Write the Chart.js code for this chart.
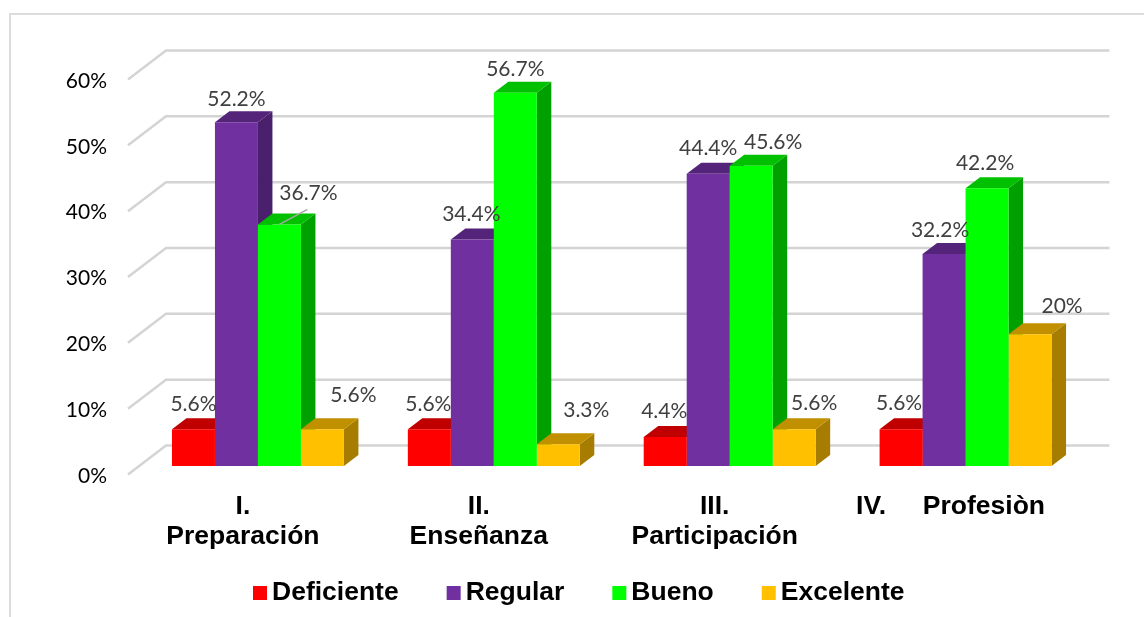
<!DOCTYPE html>
<html>
<head>
<meta charset="utf-8">
<style>
  html, body { margin: 0; padding: 0; background: #fff; }
  #box { width: 1144px; height: 617px; }
</style>
<script src="https://cdn.jsdelivr.net/npm/chart.js@4"></script>
</head>
<body>
<div id="box"><canvas id="chart" width="1144" height="617"></canvas></div>
<script>
const categories = [['I.', 'Preparación'], ['II.', 'Enseñanza'], ['III.', 'Participación'], 'IV.     Profesiòn']
const yTicks = [0, 10, 20, 30, 40, 50, 60]

const deficiente = [5.6, 5.6, 4.4, 5.6]
const regular = [52.2, 34.4, 44.4, 32.2]
const bueno = [36.7, 56.7, 45.6, 42.2]
const excelente = [5.6, 3.3, 5.6, 20]

// front, top and side colour of each series
const series = [
    { label: 'Deficiente', data: deficiente, color: '#ff0000', top: '#c00000', side: '#a80000' },
    { label: 'Regular', data: regular, color: '#7030a0', top: '#54247a', side: '#4a1f6b' },
    { label: 'Bueno', data: bueno, color: '#00ff00', top: '#00c000', side: '#00a000' },
    { label: 'Excelente', data: excelente, color: '#ffc000', top: '#c09000', side: '#a67d00' },
]

// hand placed data labels, [dx, dy] from the top centre of each bar
const labelNudge = [
    [[0, -25], [-1, -25], [-1, -26], [-2, -26]],
    [[0, -23], [-1, -25], [0, -25], [-4, -24]],
    [[29, -31], [0, -23], [22, -24], [-2, -25]],
    [[31, -34], [28, -34], [20, -26], [32, -28]],
]

const DEPTH_X = 14.5
const DEPTH_Y = 11
const BACK_X = 26
const BACK_Y = -20.5
const FRONT_X = -12
const FRONT_Y = 8.5

function poly(c, pts, fill) {
    c.fillStyle = fill
    c.beginPath()
    pts.forEach((p, i) => i ? c.lineTo(p[0], p[1]) : c.moveTo(p[0], p[1]))
    c.closePath()
    c.fill()
}

const fake3d = {
    id: 'fake3d',
    beforeDraw(chart) {
        const c = chart.ctx
        c.save()
        c.strokeStyle = '#dcdcdc'
        c.lineWidth = 2
        c.beginPath()
        c.moveTo(10, 617)
        c.lineTo(10, 14)
        c.lineTo(1144, 14)
        c.stroke()
        c.restore()
    },
    beforeDatasetsDraw(chart) {
        const c = chart.ctx
        const area = chart.chartArea
        const y = chart.scales.y
        c.save()
        // walls: one diagonal on the side and one line along the back per tick
        c.strokeStyle = '#d4d4d4'
        c.lineWidth = 2.5
        yTicks.forEach(t => {
            const py = y.getPixelForValue(t)
            c.beginPath()
            c.moveTo(area.left + FRONT_X, py + FRONT_Y)
            c.lineTo(area.left + BACK_X, py + BACK_Y)
            c.lineTo(area.right + BACK_X, py + BACK_Y)
            c.stroke()
        })
        // tops and sides go first so the library's bars cover them
        series.forEach((s, i) => {
            chart.getDatasetMeta(i).data.forEach(bar => {
                const l = bar.x - bar.width / 2
                const r = bar.x + bar.width / 2
                poly(c, [[r, bar.y], [r + DEPTH_X, bar.y - DEPTH_Y], [r + DEPTH_X, bar.base - DEPTH_Y], [r, bar.base]], s.side)
                poly(c, [[l, bar.y], [l + DEPTH_X, bar.y - DEPTH_Y], [r + DEPTH_X, bar.y - DEPTH_Y], [r, bar.y]], s.top)
            })
        })
        c.restore()
    },
    afterDatasetsDraw(chart) {
        const c = chart.ctx
        c.save()
        // leader line of the 36.7% label
        const lead = chart.getDatasetMeta(2).data[0]
        c.strokeStyle = '#a6a6a6'
        c.lineWidth = 1.5
        c.beginPath()
        c.moveTo(lead.x, lead.y)
        c.lineTo(lead.x + 28, lead.y - 15)
        c.stroke()

        c.font = '21px Lato'
        c.fillStyle = '#404040'
        c.textAlign = 'center'
        c.textBaseline = 'middle'
        series.forEach((s, i) => {
            chart.getDatasetMeta(i).data.forEach((bar, j) => {
                const n = labelNudge[i][j]
                c.fillText(s.data[j] + '%', bar.x + n[0], bar.y + n[1])
            })
        })

        // legend, box and text sit closer than the built in one allows
        c.font = 'bold 26.5px "Liberation Sans"'
        c.textAlign = 'left'
        const widths = series.map(s => c.measureText(s.label).width)
        let x = 253
        series.forEach((s, i) => {
            c.fillStyle = s.color
            c.fillRect(x, 586, 14, 14)
            c.fillStyle = '#000'
            c.fillText(s.label, x + 19, 593)
            x += 19 + widths[i] + 48
        })
        c.restore()
    },
}

new Chart(document.getElementById('chart').getContext('2d'), {
    type: 'bar',
    data: {
        labels: categories,
        datasets: series.map(s => ({ label: s.label, data: s.data, backgroundColor: s.color })),
    },
    plugins: [fake3d],
    options: {
        responsive: false,
        animation: false,
        layout: { padding: { top: 71, right: 60.5, bottom: 0, left: 0 } },
        plugins: { legend: { display: false }, tooltip: { enabled: false } },
        datasets: { bar: { categoryPercentage: 0.729, barPercentage: 1 } },
        scales: {
            x: {
                grid: { display: false },
                border: { display: false },
                afterFit(scale) { scale.height = 151 },
                ticks: {
                    color: '#000',
                    padding: 18,
                    labelOffset: -15,
                    maxRotation: 0,
                    minRotation: 0,
                    autoSkip: false,
                    font: { family: 'Liberation Sans', size: 26.5, weight: 'bold', lineHeight: 1.13 },
                },
            },
            y: {
                min: 0,
                max: 60,
                grid: { display: false, drawTicks: false },
                border: { display: false },
                afterFit(scale) { scale.width = 140 },
                afterBuildTicks(scale) { scale.ticks = yTicks.map(v => ({ value: v })) },
                ticks: {
                    color: '#000',
                    padding: 33,
                    labelOffset: 10,
                    font: { family: 'Lato', size: 21 },
                    callback: v => v + '%',
                },
            },
        },
    },
})
</script>
</body>
</html>
